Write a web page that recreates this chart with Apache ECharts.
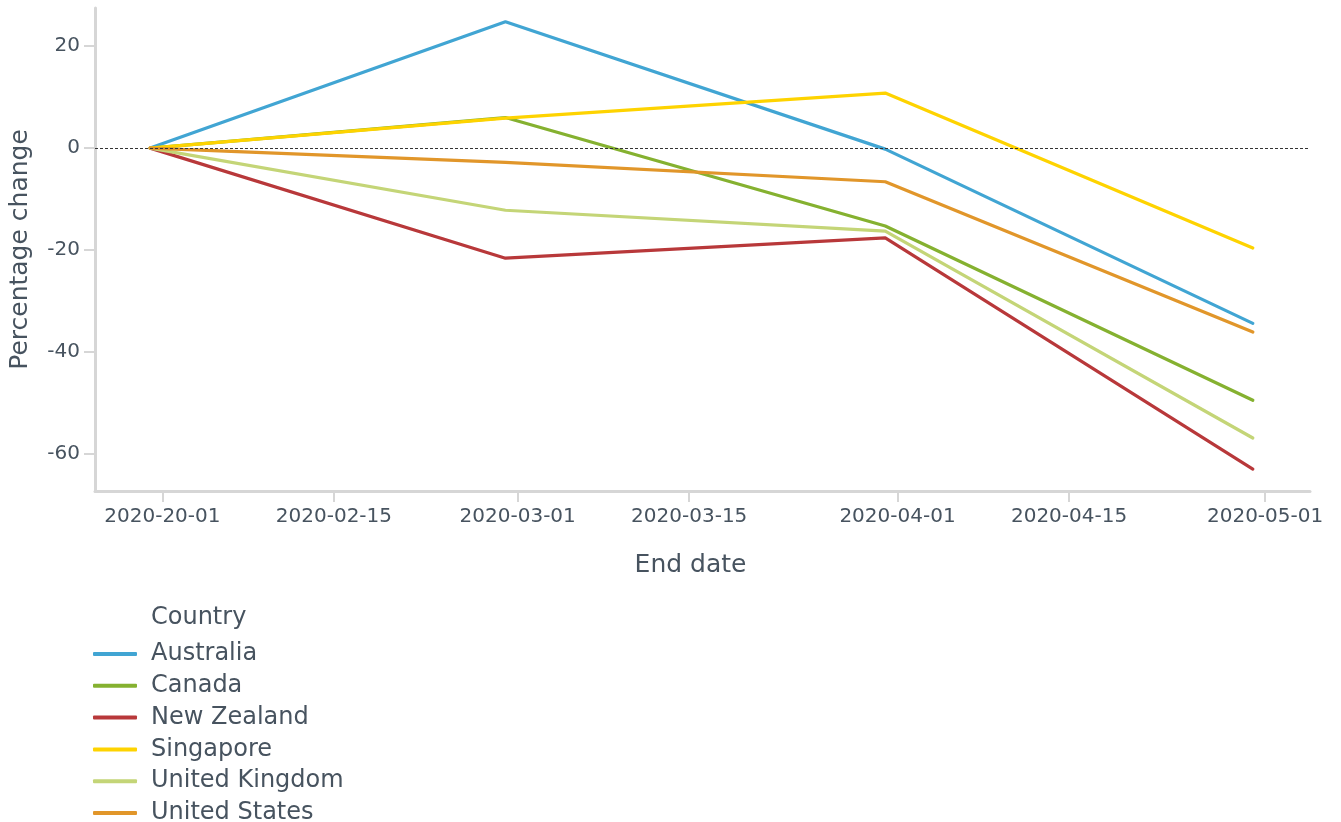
<!DOCTYPE html>
<html>
<head>
<meta charset="utf-8">
<script src="https://cdn.jsdelivr.net/npm/echarts@6/dist/echarts.min.js"></script>
<style>
html,body{margin:0;padding:0;background:#fff;}
#chart{width:1341px;height:822px;}
</style>
</head>
<body>
<div id="chart"></div>
<script>
// ---- data ----
const dates = ['2020-01-31', '2020-02-29', '2020-03-31', '2020-04-30'];
const countries = ['Australia', 'Canada', 'New Zealand', 'Singapore', 'United Kingdom', 'United States'];
const australia    = [0, 24.8, -0.2, -34.4];
const canada       = [0, 6.0, -15.3, -49.5];
const newZealand   = [0, -21.6, -17.6, -63.0];
const singapore    = [0, 5.9, 10.8, -19.6];
const unitedKingdom= [0, -12.2, -16.3, -56.9];
const unitedStates = [0, -2.8, -6.6, -36.1];
const seriesValues = [australia, canada, newZealand, singapore, unitedKingdom, unitedStates];
const xTickDates  = ['2020-02-01', '2020-02-15', '2020-03-01', '2020-03-15', '2020-04-01', '2020-04-15', '2020-05-01'];
const xTickLabels = ['2020-20-01', '2020-02-15', '2020-03-01', '2020-03-15', '2020-04-01', '2020-04-15', '2020-05-01'];
const yTicks = [-60, -40, -20, 0, 20];

// ---- styles ----
const colors = ['#41a5d3', '#85b130', '#b8383a', '#fed300', '#c4d577', '#e1962a'];
const textColor = '#47535f';
const axisGrey = '#d6d6d6';
const fontFamily = 'DejaVu Sans';

function toTs(s) {
  const p = s.split('-').map(Number);
  return Date.UTC(p[0], p[1] - 1, p[2]);
}
const tickTs = xTickDates.map(toTs);
const labelMap = {};
tickTs.forEach((t, i) => { labelMap[t] = xTickLabels[i]; });

const chart = echarts.init(document.getElementById('chart'), null, {renderer: 'canvas'});

const series = countries.map((name, i) => ({
  name: name,
  type: 'line',
  data: dates.map((d, j) => [toTs(d), seriesValues[i][j]]),
  showSymbol: false,
  symbol: 'none',
  lineStyle: {color: colors[i], width: 3.2, cap: 'round', join: 'round'},
  itemStyle: {color: colors[i]},
  z: 3
}));
series.push({
  type: 'line',
  data: [],
  silent: true,
  z: 2,
  markLine: {
    silent: true,
    symbol: 'none',
    label: {show: false},
    lineStyle: {color: '#333', width: 1, type: [3, 2]},
    data: [{yAxis: 0}]
  }
});

chart.setOption({
  animation: false,
  color: colors,
  textStyle: {fontFamily: fontFamily},
  grid: {left: 95, right: 31, top: 8, bottom: 331, containLabel: false},
  title: {
    text: 'Country',
    left: 151,
    top: 606,
    padding: 0,
    textStyle: {fontFamily: fontFamily, fontSize: 24, fontWeight: 'normal', color: textColor}
  },
  legend: {
    orient: 'vertical',
    left: 93,
    top: 642,
    height: 220,
    padding: 0,
    itemWidth: 44,
    itemHeight: 4,
    itemGap: 7.8,
    icon: 'roundRect',
    data: countries,
    textStyle: {fontFamily: fontFamily, fontSize: 24, color: textColor, padding: [0, 0, 0, 9]}
  },
  xAxis: {
    type: 'value',
    min: Date.UTC(2020, 0, 26, 12),
    max: Date.UTC(2020, 4, 4, 16),
    name: 'End date',
    nameLocation: 'middle',
    nameGap: 62,
    nameTextStyle: {fontFamily: fontFamily, fontSize: 25, color: textColor, padding: [0, 24, 0, 0]},
    axisLine: {show: true, onZero: false, lineStyle: {color: axisGrey, width: 3}},
    axisTick: {show: true, customValues: tickTs, length: 11, lineStyle: {color: axisGrey, width: 2}},
    axisLabel: {
      customValues: tickTs,
      formatter: function (v) { return labelMap[v] !== undefined ? labelMap[v] : ''; },
      fontFamily: fontFamily, fontSize: 20, color: textColor, margin: 16,
      hideOverlap: false
    },
    splitLine: {show: false}
  },
  yAxis: {
    type: 'value',
    min: -67.3,
    max: 27.5,
    name: 'Percentage change',
    nameLocation: 'middle',
    nameGap: 62,
    nameTextStyle: {fontFamily: fontFamily, fontSize: 25, color: textColor},
    axisLine: {show: true, onZero: false, lineStyle: {color: axisGrey, width: 3}},
    axisTick: {show: true, customValues: yTicks, length: 11, lineStyle: {color: axisGrey, width: 2}},
    axisLabel: {
      customValues: yTicks,
      fontFamily: fontFamily, fontSize: 20, color: textColor, margin: 15
    },
    splitLine: {show: false}
  },
  series: series
});
</script>
</body>
</html>
